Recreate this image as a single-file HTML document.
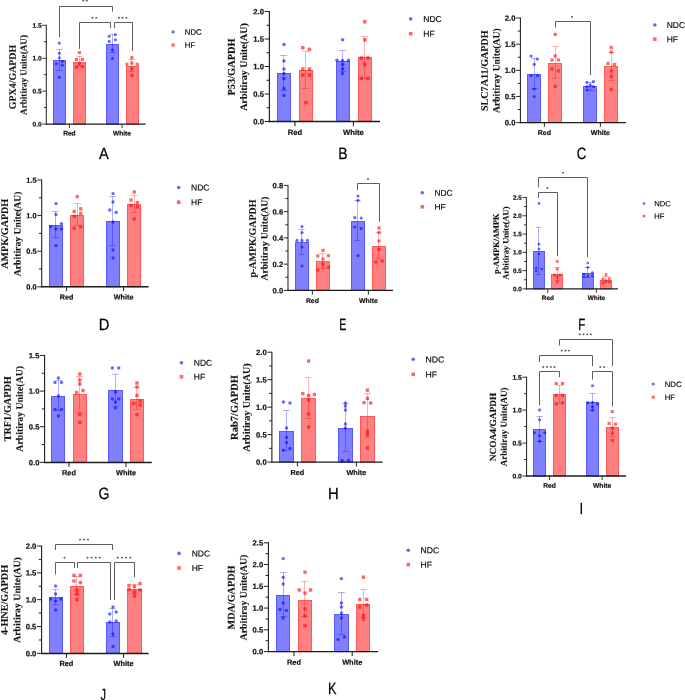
<!DOCTYPE html>
<html lang="en">
<head>
<meta charset="utf-8">
<title>Figure panels A-K</title>
<style>
html,body{margin:0;padding:0;background:#fff;}
body{width:685px;height:700px;overflow:hidden;}
svg{display:block;will-change:transform;opacity:0.999;}
text{text-rendering:geometricPrecision;}
</style>
</head>
<body>
<svg width="685" height="700" viewBox="0 0 685 700">
<g id="panel-A">
<rect x="54" y="61" width="11" height="63.1" fill="rgba(0,0,255,0.5)"/>
<rect x="53.5" y="60.5" width="12" height="63.6" fill="none" stroke="rgba(0,0,255,0.66)" stroke-width="1"/>
<rect x="74" y="63" width="11" height="61.1" fill="rgba(255,0,0,0.5)"/>
<rect x="73.5" y="62.5" width="12" height="61.6" fill="none" stroke="rgba(255,0,0,0.66)" stroke-width="1"/>
<rect x="107" y="45" width="11" height="79.1" fill="rgba(0,0,255,0.5)"/>
<rect x="106.5" y="44.5" width="12" height="79.6" fill="none" stroke="rgba(0,0,255,0.66)" stroke-width="1"/>
<rect x="127" y="67" width="11" height="57.1" fill="rgba(255,0,0,0.5)"/>
<rect x="126.5" y="66.5" width="12" height="57.6" fill="none" stroke="rgba(255,0,0,0.66)" stroke-width="1"/>
<path d="M59.5 49.5V70.5M56.47 49.5H62.53M56.47 70.5H62.53" stroke="rgba(0,0,255,0.42)" stroke-width="0.75" fill="none"/>
<path d="M79.5 56.5V66.5M76.47 56.5H82.53M76.47 66.5H82.53" stroke="rgba(255,0,0,0.42)" stroke-width="0.75" fill="none"/>
<path d="M112.5 34.5V52.5M109.47 34.5H115.53M109.47 52.5H115.53" stroke="rgba(0,0,255,0.42)" stroke-width="0.75" fill="none"/>
<path d="M131.5 59.5V71.5M128.47 59.5H134.53M128.47 71.5H134.53" stroke="rgba(255,0,0,0.42)" stroke-width="0.75" fill="none"/>
<circle cx="59.3" cy="43.1" r="1.56" fill="rgba(0,0,255,0.6)"/>
<circle cx="59.3" cy="53.3" r="1.56" fill="rgba(0,0,255,0.6)"/>
<circle cx="59.3" cy="57.8" r="1.56" fill="rgba(0,0,255,0.6)"/>
<circle cx="62.3" cy="61.4" r="1.56" fill="rgba(0,0,255,0.6)"/>
<circle cx="56.3" cy="63.8" r="1.56" fill="rgba(0,0,255,0.6)"/>
<circle cx="62.3" cy="65.3" r="1.56" fill="rgba(0,0,255,0.6)"/>
<circle cx="59.3" cy="77.3" r="1.56" fill="rgba(0,0,255,0.6)"/>
<rect x="77.84" y="51.04" width="3.13" height="3.13" fill="rgba(255,0,0,0.6)"/>
<rect x="74.84" y="57.84" width="3.13" height="3.13" fill="rgba(255,0,0,0.6)"/>
<rect x="80.84" y="57.84" width="3.13" height="3.13" fill="rgba(255,0,0,0.6)"/>
<rect x="77.84" y="62.44" width="3.13" height="3.13" fill="rgba(255,0,0,0.6)"/>
<rect x="74.84" y="65.44" width="3.13" height="3.13" fill="rgba(255,0,0,0.6)"/>
<rect x="80.84" y="65.04" width="3.13" height="3.13" fill="rgba(255,0,0,0.6)"/>
<circle cx="109.2" cy="36.3" r="1.56" fill="rgba(0,0,255,0.6)"/>
<circle cx="115.4" cy="34.8" r="1.56" fill="rgba(0,0,255,0.6)"/>
<circle cx="109.2" cy="41.4" r="1.56" fill="rgba(0,0,255,0.6)"/>
<circle cx="115.4" cy="39.8" r="1.56" fill="rgba(0,0,255,0.6)"/>
<circle cx="112.4" cy="50" r="1.56" fill="rgba(0,0,255,0.6)"/>
<circle cx="112.4" cy="58.6" r="1.56" fill="rgba(0,0,255,0.6)"/>
<rect x="130.34" y="56.14" width="3.13" height="3.13" fill="rgba(255,0,0,0.6)"/>
<rect x="130.34" y="61.54" width="3.13" height="3.13" fill="rgba(255,0,0,0.6)"/>
<rect x="125.34" y="62.74" width="3.13" height="3.13" fill="rgba(255,0,0,0.6)"/>
<rect x="135.64" y="62.74" width="3.13" height="3.13" fill="rgba(255,0,0,0.6)"/>
<rect x="130.34" y="67.34" width="3.13" height="3.13" fill="rgba(255,0,0,0.6)"/>
<rect x="130.34" y="73.94" width="3.13" height="3.13" fill="rgba(255,0,0,0.6)"/>
<path d="M46.3 24.85V124.65" stroke="#1c1c1c" stroke-width="0.98" fill="none"/>
<path d="M45.81 124.1H145.6" stroke="#1c1c1c" stroke-width="1.1" fill="none"/>
<path d="M46.3 124.1H42.29M46.3 107.63H43.8M46.3 91.17H42.29M46.3 74.7H43.8M46.3 58.23H42.29M46.3 41.77H43.8M46.3 25.3H42.29M69.4 124.1V128.11M122 124.1V128.11" stroke="#1c1c1c" stroke-width="0.89" fill="none"/>
<g font-family="Liberation Sans, Arial, sans-serif" font-weight="bold" font-size="6.63" fill="#111" stroke="#111" stroke-width="0.2">
<text transform="translate(41.66 126.49) rotate(0.03)" text-anchor="end">0.0</text>
<text transform="translate(41.66 93.55) rotate(0.03)" text-anchor="end">0.5</text>
<text transform="translate(41.66 60.62) rotate(0.03)" text-anchor="end">1.0</text>
<text transform="translate(41.66 27.69) rotate(0.03)" text-anchor="end">1.5</text>
<text transform="translate(69.4 135.38) rotate(0.03)" text-anchor="middle" font-size="6.6">Red</text>
<text transform="translate(122 135.38) rotate(0.03)" text-anchor="middle" font-size="6.6">White</text>
</g>
<path d="M59.5 37V6.5H112.5V11.6" stroke="#2a2a2a" stroke-width="0.75" fill="none"/>
<text transform="translate(85.82 3.23) rotate(0.03)" text-anchor="middle" font-family="Liberation Sans, Arial, sans-serif" font-size="5.2" letter-spacing="1.63" fill="#000" stroke="#000" stroke-width="0.12">**</text>
<path d="M79.5 49V22.5H110.5V28" stroke="#2a2a2a" stroke-width="0.75" fill="none"/>
<text transform="translate(95.22 20.43) rotate(0.03)" text-anchor="middle" font-family="Liberation Sans, Arial, sans-serif" font-size="5.2" letter-spacing="1.63" fill="#000" stroke="#000" stroke-width="0.12">**</text>
<path d="M114.5 28V22.5H132.5V51" stroke="#2a2a2a" stroke-width="0.75" fill="none"/>
<text transform="translate(123.42 20.43) rotate(0.03)" text-anchor="middle" font-family="Liberation Sans, Arial, sans-serif" font-size="5.2" letter-spacing="1.63" fill="#000" stroke="#000" stroke-width="0.12">***</text>
<circle cx="173.1" cy="31.9" r="1.6" fill="rgba(0,0,255,0.6)"/>
<rect x="171.5" y="43.4" width="3.2" height="3.2" fill="rgba(255,0,0,0.6)"/>
<g font-family="Liberation Sans, Arial, sans-serif" font-size="7.8" fill="#000" stroke="#000" stroke-width="0.15"><text transform="translate(184.8 34.71) rotate(0.03)">NDC</text><text transform="translate(184.8 47.81) rotate(0.03)">HF</text></g>
<text transform="translate(15.77 77) rotate(-90.03)" text-anchor="middle" font-family="Liberation Serif, Times New Roman, serif" font-weight="bold" font-size="9.92" fill="#111" stroke="#111" stroke-width="0.12">GPX4/GAPDH</text>
<text transform="translate(26.58 75) rotate(-90.03)" text-anchor="middle" font-family="Liberation Serif, Times New Roman, serif" font-weight="bold" font-size="9.14" fill="#111" stroke="#111" stroke-width="0.12">Arbitiray Unite(AU)</text>
<text transform="translate(99.03 158.75) rotate(0.03) scale(0.9138 1.0054)" font-family="Liberation Sans, Arial, sans-serif" font-size="16" fill="#000" stroke="#000" stroke-width="0.25">A</text>
</g>
<g id="panel-B">
<rect x="278" y="74" width="12" height="47.6" fill="rgba(0,0,255,0.5)"/>
<rect x="277.5" y="73.5" width="13" height="48.1" fill="none" stroke="rgba(0,0,255,0.66)" stroke-width="1"/>
<rect x="300" y="71" width="12" height="50.6" fill="rgba(255,0,0,0.5)"/>
<rect x="299.5" y="70.5" width="13" height="51.1" fill="none" stroke="rgba(255,0,0,0.66)" stroke-width="1"/>
<rect x="337" y="62" width="12" height="59.6" fill="rgba(0,0,255,0.5)"/>
<rect x="336.5" y="61.5" width="13" height="60.1" fill="none" stroke="rgba(0,0,255,0.66)" stroke-width="1"/>
<rect x="359" y="58" width="12" height="63.6" fill="rgba(255,0,0,0.5)"/>
<rect x="358.5" y="57.5" width="13" height="64.1" fill="none" stroke="rgba(255,0,0,0.66)" stroke-width="1"/>
<path d="M283.5 55.5V90.5M279.96 55.5H287.04M279.96 90.5H287.04" stroke="rgba(0,0,255,0.42)" stroke-width="0.75" fill="none"/>
<path d="M305.5 51.5V88.5M301.96 51.5H309.04M301.96 88.5H309.04" stroke="rgba(255,0,0,0.42)" stroke-width="0.75" fill="none"/>
<path d="M342.5 50.5V71.5M338.96 50.5H346.04M338.96 71.5H346.04" stroke="rgba(0,0,255,0.42)" stroke-width="0.75" fill="none"/>
<path d="M364.5 36.5V78.5M360.96 36.5H368.04M360.96 78.5H368.04" stroke="rgba(255,0,0,0.42)" stroke-width="0.75" fill="none"/>
<circle cx="284" cy="44.4" r="1.77" fill="rgba(0,0,255,0.6)"/>
<circle cx="284" cy="61" r="1.77" fill="rgba(0,0,255,0.6)"/>
<circle cx="284" cy="69" r="1.77" fill="rgba(0,0,255,0.6)"/>
<circle cx="284" cy="73.6" r="1.77" fill="rgba(0,0,255,0.6)"/>
<circle cx="284" cy="78.6" r="1.77" fill="rgba(0,0,255,0.6)"/>
<circle cx="284" cy="88.6" r="1.77" fill="rgba(0,0,255,0.6)"/>
<circle cx="284" cy="95.4" r="1.77" fill="rgba(0,0,255,0.6)"/>
<rect x="301.03" y="46.03" width="3.54" height="3.54" fill="rgba(255,0,0,0.6)"/>
<rect x="307.63" y="47.63" width="3.54" height="3.54" fill="rgba(255,0,0,0.6)"/>
<rect x="301.03" y="67.23" width="3.54" height="3.54" fill="rgba(255,0,0,0.6)"/>
<rect x="307.63" y="67.23" width="3.54" height="3.54" fill="rgba(255,0,0,0.6)"/>
<rect x="301.03" y="73.23" width="3.54" height="3.54" fill="rgba(255,0,0,0.6)"/>
<rect x="307.63" y="73.23" width="3.54" height="3.54" fill="rgba(255,0,0,0.6)"/>
<rect x="304.23" y="100.83" width="3.54" height="3.54" fill="rgba(255,0,0,0.6)"/>
<circle cx="342.6" cy="39.8" r="1.77" fill="rgba(0,0,255,0.6)"/>
<circle cx="337" cy="60.2" r="1.77" fill="rgba(0,0,255,0.6)"/>
<circle cx="342.6" cy="60.6" r="1.77" fill="rgba(0,0,255,0.6)"/>
<circle cx="348.4" cy="60.2" r="1.77" fill="rgba(0,0,255,0.6)"/>
<circle cx="342.6" cy="64.4" r="1.77" fill="rgba(0,0,255,0.6)"/>
<circle cx="342.6" cy="69" r="1.77" fill="rgba(0,0,255,0.6)"/>
<circle cx="342.6" cy="73.4" r="1.77" fill="rgba(0,0,255,0.6)"/>
<rect x="363.03" y="20.03" width="3.54" height="3.54" fill="rgba(255,0,0,0.6)"/>
<rect x="363.03" y="38.03" width="3.54" height="3.54" fill="rgba(255,0,0,0.6)"/>
<rect x="359.63" y="56.23" width="3.54" height="3.54" fill="rgba(255,0,0,0.6)"/>
<rect x="366.23" y="56.23" width="3.54" height="3.54" fill="rgba(255,0,0,0.6)"/>
<rect x="363.03" y="62.63" width="3.54" height="3.54" fill="rgba(255,0,0,0.6)"/>
<rect x="359.63" y="76.63" width="3.54" height="3.54" fill="rgba(255,0,0,0.6)"/>
<rect x="366.23" y="76.63" width="3.54" height="3.54" fill="rgba(255,0,0,0.6)"/>
<path d="M269.4 10.88V122.35" stroke="#1c1c1c" stroke-width="1.14" fill="none"/>
<path d="M268.83 121.6H380" stroke="#1c1c1c" stroke-width="1.51" fill="none"/>
<path d="M269.4 121.6H264.72M269.4 107.82H266.49M269.4 94.05H264.72M269.4 80.28H266.49M269.4 66.5H264.72M269.4 52.73H266.49M269.4 38.95H264.72M269.4 25.18H266.49M269.4 11.4H264.72M295 121.6V126.28M353.4 121.6V126.28" stroke="#1c1c1c" stroke-width="1.04" fill="none"/>
<g font-family="Liberation Sans, Arial, sans-serif" font-weight="bold" font-size="7.7" fill="#111" stroke="#111" stroke-width="0.2">
<text transform="translate(263.99 124.37) rotate(0.03)" text-anchor="end">0.0</text>
<text transform="translate(263.99 96.82) rotate(0.03)" text-anchor="end">0.5</text>
<text transform="translate(263.99 69.27) rotate(0.03)" text-anchor="end">1.0</text>
<text transform="translate(263.99 41.72) rotate(0.03)" text-anchor="end">1.5</text>
<text transform="translate(263.99 14.17) rotate(0.03)" text-anchor="end">2.0</text>
<text transform="translate(295 134.97) rotate(0.03)" text-anchor="middle" font-size="7.7">Red</text>
<text transform="translate(353.4 134.97) rotate(0.03)" text-anchor="middle" font-size="7.7">White</text>
</g>
<circle cx="410.7" cy="18.9" r="1.8" fill="rgba(0,0,255,0.6)"/>
<rect x="408.9" y="31.9" width="3.6" height="3.6" fill="rgba(255,0,0,0.6)"/>
<g font-family="Liberation Sans, Arial, sans-serif" font-size="8.5" fill="#000" stroke="#000" stroke-width="0.15"><text transform="translate(423.3 21.96) rotate(0.03)">NDC</text><text transform="translate(423.3 36.76) rotate(0.03)">HF</text></g>
<text transform="translate(234.82 67) rotate(-90.03)" text-anchor="middle" font-family="Liberation Serif, Times New Roman, serif" font-weight="bold" font-size="10.4" fill="#111" stroke="#111" stroke-width="0.12">P53/GAPDH</text>
<text transform="translate(246.9 67) rotate(-90.03)" text-anchor="middle" font-family="Liberation Serif, Times New Roman, serif" font-weight="bold" font-size="10" fill="#111" stroke="#111" stroke-width="0.12">Arbitiray Unite(AU)</text>
<text transform="translate(338.19 158.95) rotate(0.03) scale(0.8703 1.0326)" font-family="Liberation Sans, Arial, sans-serif" font-size="16" fill="#000" stroke="#000" stroke-width="0.25">B</text>
</g>
<g id="panel-C">
<rect x="528" y="75" width="12" height="47.6" fill="rgba(0,0,255,0.5)"/>
<rect x="527.5" y="74.5" width="13" height="48.1" fill="none" stroke="rgba(0,0,255,0.66)" stroke-width="1"/>
<rect x="549" y="64" width="12" height="58.6" fill="rgba(255,0,0,0.5)"/>
<rect x="548.5" y="63.5" width="13" height="59.1" fill="none" stroke="rgba(255,0,0,0.66)" stroke-width="1"/>
<rect x="584" y="87" width="12" height="35.6" fill="rgba(0,0,255,0.5)"/>
<rect x="583.5" y="86.5" width="13" height="36.1" fill="none" stroke="rgba(0,0,255,0.66)" stroke-width="1"/>
<rect x="605" y="67" width="12" height="55.6" fill="rgba(255,0,0,0.5)"/>
<rect x="604.5" y="66.5" width="13" height="56.1" fill="none" stroke="rgba(255,0,0,0.66)" stroke-width="1"/>
<path d="M534.5 58.5V88.5M531.28 58.5H537.72M531.28 88.5H537.72" stroke="rgba(0,0,255,0.42)" stroke-width="0.75" fill="none"/>
<path d="M555.5 46.5V78.5M552.28 46.5H558.72M552.28 78.5H558.72" stroke="rgba(255,0,0,0.42)" stroke-width="0.75" fill="none"/>
<path d="M590.5 82.5V90.5M587.28 82.5H593.72M587.28 90.5H593.72" stroke="rgba(0,0,255,0.42)" stroke-width="0.75" fill="none"/>
<path d="M611.5 52.5V80.5M608.28 52.5H614.72M608.28 80.5H614.72" stroke="rgba(255,0,0,0.42)" stroke-width="0.75" fill="none"/>
<circle cx="531" cy="56" r="1.61" fill="rgba(0,0,255,0.6)"/>
<circle cx="537.4" cy="59" r="1.61" fill="rgba(0,0,255,0.6)"/>
<circle cx="534.2" cy="64.4" r="1.61" fill="rgba(0,0,255,0.6)"/>
<circle cx="531" cy="75.6" r="1.61" fill="rgba(0,0,255,0.6)"/>
<circle cx="537.4" cy="75.6" r="1.61" fill="rgba(0,0,255,0.6)"/>
<circle cx="534.2" cy="89" r="1.61" fill="rgba(0,0,255,0.6)"/>
<circle cx="534.2" cy="96.6" r="1.61" fill="rgba(0,0,255,0.6)"/>
<rect x="553.59" y="32.79" width="3.22" height="3.22" fill="rgba(255,0,0,0.6)"/>
<rect x="553.59" y="54.39" width="3.22" height="3.22" fill="rgba(255,0,0,0.6)"/>
<rect x="550.39" y="58.39" width="3.22" height="3.22" fill="rgba(255,0,0,0.6)"/>
<rect x="556.79" y="58.39" width="3.22" height="3.22" fill="rgba(255,0,0,0.6)"/>
<rect x="550.39" y="67.39" width="3.22" height="3.22" fill="rgba(255,0,0,0.6)"/>
<rect x="556.79" y="69.39" width="3.22" height="3.22" fill="rgba(255,0,0,0.6)"/>
<rect x="553.59" y="84.79" width="3.22" height="3.22" fill="rgba(255,0,0,0.6)"/>
<circle cx="587" cy="82.4" r="1.61" fill="rgba(0,0,255,0.6)"/>
<circle cx="593.4" cy="81.6" r="1.61" fill="rgba(0,0,255,0.6)"/>
<circle cx="590.2" cy="85" r="1.61" fill="rgba(0,0,255,0.6)"/>
<circle cx="587" cy="86.6" r="1.61" fill="rgba(0,0,255,0.6)"/>
<circle cx="593.4" cy="86.6" r="1.61" fill="rgba(0,0,255,0.6)"/>
<circle cx="587" cy="90" r="1.61" fill="rgba(0,0,255,0.6)"/>
<rect x="609.59" y="45.79" width="3.22" height="3.22" fill="rgba(255,0,0,0.6)"/>
<rect x="609.59" y="50.39" width="3.22" height="3.22" fill="rgba(255,0,0,0.6)"/>
<rect x="606.39" y="61.79" width="3.22" height="3.22" fill="rgba(255,0,0,0.6)"/>
<rect x="612.79" y="62.89" width="3.22" height="3.22" fill="rgba(255,0,0,0.6)"/>
<rect x="609.59" y="69.39" width="3.22" height="3.22" fill="rgba(255,0,0,0.6)"/>
<rect x="609.59" y="74.79" width="3.22" height="3.22" fill="rgba(255,0,0,0.6)"/>
<rect x="609.59" y="87.79" width="3.22" height="3.22" fill="rgba(255,0,0,0.6)"/>
<path d="M520.4 17.53V123.29" stroke="#1c1c1c" stroke-width="1.04" fill="none"/>
<path d="M519.88 122.6H626" stroke="#1c1c1c" stroke-width="1.37" fill="none"/>
<path d="M520.4 122.6H516.14M520.4 109.52H517.75M520.4 96.45H516.14M520.4 83.37H517.75M520.4 70.3H516.14M520.4 57.22H517.75M520.4 44.15H516.14M520.4 31.08H517.75M520.4 18H516.14M544.4 122.6V126.86M600.4 122.6V126.86" stroke="#1c1c1c" stroke-width="0.95" fill="none"/>
<g font-family="Liberation Sans, Arial, sans-serif" font-weight="bold" font-size="7.7" fill="#111" stroke="#111" stroke-width="0.2">
<text transform="translate(515.48 125.37) rotate(0.03)" text-anchor="end">0.0</text>
<text transform="translate(515.48 99.22) rotate(0.03)" text-anchor="end">0.5</text>
<text transform="translate(515.48 73.07) rotate(0.03)" text-anchor="end">1.0</text>
<text transform="translate(515.48 46.92) rotate(0.03)" text-anchor="end">1.5</text>
<text transform="translate(515.48 20.77) rotate(0.03)" text-anchor="end">2.0</text>
<text transform="translate(544.4 135.12) rotate(0.03)" text-anchor="middle" font-size="7">Red</text>
<text transform="translate(600.4 135.12) rotate(0.03)" text-anchor="middle" font-size="7">White</text>
</g>
<path d="M555.5 27.6V21.5H590.5V75" stroke="#2a2a2a" stroke-width="0.75" fill="none"/>
<text transform="translate(572.93 19.43) rotate(0.03)" text-anchor="middle" font-family="Liberation Sans, Arial, sans-serif" font-size="5.2" letter-spacing="1.86" fill="#000" stroke="#000" stroke-width="0.12">*</text>
<circle cx="654.8" cy="25" r="1.8" fill="rgba(0,0,255,0.6)"/>
<rect x="653" y="37.3" width="3.6" height="3.6" fill="rgba(255,0,0,0.6)"/>
<g font-family="Liberation Sans, Arial, sans-serif" font-size="8.5" fill="#000" stroke="#000" stroke-width="0.15"><text transform="translate(666.7 28.06) rotate(0.03)">NDC</text><text transform="translate(666.7 42.16) rotate(0.03)">HF</text></g>
<text transform="translate(487.73 70.7) rotate(-90.03)" text-anchor="middle" font-family="Liberation Serif, Times New Roman, serif" font-weight="bold" font-size="10.09" fill="#111" stroke="#111" stroke-width="0.12">SLC7A11/GAPDH</text>
<text transform="translate(499.51 70.7) rotate(-90.03)" text-anchor="middle" font-family="Liberation Serif, Times New Roman, serif" font-weight="bold" font-size="9.7" fill="#111" stroke="#111" stroke-width="0.12">Arbitiray Unite(AU)</text>
<text transform="translate(576.84 158.99) rotate(0.03) scale(0.8234 1.0299)" font-family="Liberation Sans, Arial, sans-serif" font-size="16" fill="#000" stroke="#000" stroke-width="0.25">C</text>
</g>
<g id="panel-D">
<rect x="50" y="226" width="12" height="60.8" fill="rgba(0,0,255,0.5)"/>
<rect x="49.5" y="225.5" width="13" height="61.3" fill="none" stroke="rgba(0,0,255,0.66)" stroke-width="1"/>
<rect x="71" y="216" width="12" height="70.8" fill="rgba(255,0,0,0.5)"/>
<rect x="70.5" y="215.5" width="13" height="71.3" fill="none" stroke="rgba(255,0,0,0.66)" stroke-width="1"/>
<rect x="107" y="222" width="12" height="64.8" fill="rgba(0,0,255,0.5)"/>
<rect x="106.5" y="221.5" width="13" height="65.3" fill="none" stroke="rgba(0,0,255,0.66)" stroke-width="1"/>
<rect x="128" y="205" width="12" height="81.8" fill="rgba(255,0,0,0.5)"/>
<rect x="127.5" y="204.5" width="13" height="82.3" fill="none" stroke="rgba(255,0,0,0.66)" stroke-width="1"/>
<path d="M55.5 211.5V237.5M52.19 211.5H58.81M52.19 237.5H58.81" stroke="rgba(0,0,255,0.42)" stroke-width="0.75" fill="none"/>
<path d="M77.5 203.5V225.5M74.19 203.5H80.81M74.19 225.5H80.81" stroke="rgba(255,0,0,0.42)" stroke-width="0.75" fill="none"/>
<path d="M112.5 196.5V245.5M109.19 196.5H115.81M109.19 245.5H115.81" stroke="rgba(0,0,255,0.42)" stroke-width="0.75" fill="none"/>
<path d="M134.5 195.5V212.5M131.19 195.5H137.81M131.19 212.5H137.81" stroke="rgba(255,0,0,0.42)" stroke-width="0.75" fill="none"/>
<circle cx="56" cy="203.6" r="1.65" fill="rgba(0,0,255,0.6)"/>
<circle cx="56" cy="214.4" r="1.65" fill="rgba(0,0,255,0.6)"/>
<circle cx="61.4" cy="223.6" r="1.65" fill="rgba(0,0,255,0.6)"/>
<circle cx="50.6" cy="226.6" r="1.65" fill="rgba(0,0,255,0.6)"/>
<circle cx="56" cy="229" r="1.65" fill="rgba(0,0,255,0.6)"/>
<circle cx="61.4" cy="229" r="1.65" fill="rgba(0,0,255,0.6)"/>
<circle cx="56" cy="245.6" r="1.65" fill="rgba(0,0,255,0.6)"/>
<rect x="75.55" y="194.95" width="3.31" height="3.31" fill="rgba(255,0,0,0.6)"/>
<rect x="72.55" y="209.85" width="3.31" height="3.31" fill="rgba(255,0,0,0.6)"/>
<rect x="79.05" y="207.15" width="3.31" height="3.31" fill="rgba(255,0,0,0.6)"/>
<rect x="79.05" y="211.65" width="3.31" height="3.31" fill="rgba(255,0,0,0.6)"/>
<rect x="72.65" y="214.65" width="3.31" height="3.31" fill="rgba(255,0,0,0.6)"/>
<rect x="72.55" y="226.55" width="3.31" height="3.31" fill="rgba(255,0,0,0.6)"/>
<rect x="78.95" y="225.15" width="3.31" height="3.31" fill="rgba(255,0,0,0.6)"/>
<circle cx="113" cy="193.6" r="1.65" fill="rgba(0,0,255,0.6)"/>
<circle cx="113" cy="202" r="1.65" fill="rgba(0,0,255,0.6)"/>
<circle cx="109.8" cy="210" r="1.65" fill="rgba(0,0,255,0.6)"/>
<circle cx="116.2" cy="212.4" r="1.65" fill="rgba(0,0,255,0.6)"/>
<circle cx="113" cy="222" r="1.65" fill="rgba(0,0,255,0.6)"/>
<circle cx="113" cy="250" r="1.65" fill="rgba(0,0,255,0.6)"/>
<circle cx="113" cy="258" r="1.65" fill="rgba(0,0,255,0.6)"/>
<rect x="132.55" y="190.35" width="3.31" height="3.31" fill="rgba(255,0,0,0.6)"/>
<rect x="129.35" y="198.35" width="3.31" height="3.31" fill="rgba(255,0,0,0.6)"/>
<rect x="135.75" y="200.95" width="3.31" height="3.31" fill="rgba(255,0,0,0.6)"/>
<rect x="129.35" y="203.95" width="3.31" height="3.31" fill="rgba(255,0,0,0.6)"/>
<rect x="135.75" y="205.35" width="3.31" height="3.31" fill="rgba(255,0,0,0.6)"/>
<rect x="132.55" y="217.35" width="3.31" height="3.31" fill="rgba(255,0,0,0.6)"/>
<path d="M41.7 179.51V287.51" stroke="#1c1c1c" stroke-width="1.07" fill="none"/>
<path d="M41.16 286.8H148.6" stroke="#1c1c1c" stroke-width="1.41" fill="none"/>
<path d="M41.7 286.8H37.32M41.7 269H38.98M41.7 251.2H37.32M41.7 233.4H38.98M41.7 215.6H37.32M41.7 197.8H38.98M41.7 180H37.32M66.6 286.8V291.18M123.6 286.8V291.18" stroke="#1c1c1c" stroke-width="0.97" fill="none"/>
<g font-family="Liberation Sans, Arial, sans-serif" font-weight="bold" font-size="7.41" fill="#111" stroke="#111" stroke-width="0.2">
<text transform="translate(36.64 289.47) rotate(0.03)" text-anchor="end">0.0</text>
<text transform="translate(36.64 253.87) rotate(0.03)" text-anchor="end">0.5</text>
<text transform="translate(36.64 218.27) rotate(0.03)" text-anchor="end">1.0</text>
<text transform="translate(36.64 182.67) rotate(0.03)" text-anchor="end">1.5</text>
<text transform="translate(66.6 299.59) rotate(0.03)" text-anchor="middle" font-size="7.2">Red</text>
<text transform="translate(123.6 299.59) rotate(0.03)" text-anchor="middle" font-size="7.2">White</text>
</g>
<circle cx="178.7" cy="187.5" r="1.8" fill="rgba(0,0,255,0.6)"/>
<rect x="176.9" y="200.4" width="3.6" height="3.6" fill="rgba(255,0,0,0.6)"/>
<g font-family="Liberation Sans, Arial, sans-serif" font-size="8.5" fill="#000" stroke="#000" stroke-width="0.15"><text transform="translate(191 190.56) rotate(0.03)">NDC</text><text transform="translate(191 205.26) rotate(0.03)">HF</text></g>
<text transform="translate(8.03 233.8) rotate(-90.03)" text-anchor="middle" font-family="Liberation Serif, Times New Roman, serif" font-weight="bold" font-size="10.09" fill="#111" stroke="#111" stroke-width="0.12">AMPK/GAPDH</text>
<text transform="translate(20.51 233.8) rotate(-90.03)" text-anchor="middle" font-family="Liberation Serif, Times New Roman, serif" font-weight="bold" font-size="9.7" fill="#111" stroke="#111" stroke-width="0.12">Arbitiray Unite(AU)</text>
<text transform="translate(98.82 329.85) rotate(0.03) scale(0.9191 1.0145)" font-family="Liberation Sans, Arial, sans-serif" font-size="16" fill="#000" stroke="#000" stroke-width="0.25">D</text>
</g>
<g id="panel-E">
<rect x="296" y="243" width="12" height="47.4" fill="rgba(0,0,255,0.5)"/>
<rect x="295.5" y="242.5" width="13" height="47.9" fill="none" stroke="rgba(0,0,255,0.66)" stroke-width="1"/>
<rect x="317" y="262" width="12" height="28.4" fill="rgba(255,0,0,0.5)"/>
<rect x="316.5" y="261.5" width="13" height="28.9" fill="none" stroke="rgba(255,0,0,0.66)" stroke-width="1"/>
<rect x="352" y="222" width="12" height="68.4" fill="rgba(0,0,255,0.5)"/>
<rect x="351.5" y="221.5" width="13" height="68.9" fill="none" stroke="rgba(0,0,255,0.66)" stroke-width="1"/>
<rect x="373" y="247" width="12" height="43.4" fill="rgba(255,0,0,0.5)"/>
<rect x="372.5" y="246.5" width="13" height="43.9" fill="none" stroke="rgba(255,0,0,0.66)" stroke-width="1"/>
<path d="M301.5 229.5V254.5M298.33 229.5H304.67M298.33 254.5H304.67" stroke="rgba(0,0,255,0.42)" stroke-width="0.75" fill="none"/>
<path d="M322.5 253.5V268.5M319.33 253.5H325.67M319.33 268.5H325.67" stroke="rgba(255,0,0,0.42)" stroke-width="0.75" fill="none"/>
<path d="M357.5 200.5V240.5M354.33 200.5H360.67M354.33 240.5H360.67" stroke="rgba(0,0,255,0.42)" stroke-width="0.75" fill="none"/>
<path d="M378.5 232.5V258.5M375.33 232.5H381.67M375.33 258.5H381.67" stroke="rgba(255,0,0,0.42)" stroke-width="0.75" fill="none"/>
<circle cx="302" cy="226.6" r="1.59" fill="rgba(0,0,255,0.6)"/>
<circle cx="302" cy="232.6" r="1.59" fill="rgba(0,0,255,0.6)"/>
<circle cx="297" cy="240.4" r="1.59" fill="rgba(0,0,255,0.6)"/>
<circle cx="302" cy="240.4" r="1.59" fill="rgba(0,0,255,0.6)"/>
<circle cx="307.4" cy="240.4" r="1.59" fill="rgba(0,0,255,0.6)"/>
<circle cx="302" cy="247" r="1.59" fill="rgba(0,0,255,0.6)"/>
<circle cx="302" cy="266" r="1.59" fill="rgba(0,0,255,0.6)"/>
<rect x="321.41" y="248.81" width="3.17" height="3.17" fill="rgba(255,0,0,0.6)"/>
<rect x="316.21" y="254.41" width="3.17" height="3.17" fill="rgba(255,0,0,0.6)"/>
<rect x="326.81" y="254.01" width="3.17" height="3.17" fill="rgba(255,0,0,0.6)"/>
<rect x="321.41" y="257.41" width="3.17" height="3.17" fill="rgba(255,0,0,0.6)"/>
<rect x="321.41" y="262.41" width="3.17" height="3.17" fill="rgba(255,0,0,0.6)"/>
<rect x="316.21" y="268.41" width="3.17" height="3.17" fill="rgba(255,0,0,0.6)"/>
<rect x="326.81" y="265.81" width="3.17" height="3.17" fill="rgba(255,0,0,0.6)"/>
<circle cx="358" cy="196" r="1.59" fill="rgba(0,0,255,0.6)"/>
<circle cx="358" cy="200.4" r="1.59" fill="rgba(0,0,255,0.6)"/>
<circle cx="354.8" cy="217.6" r="1.59" fill="rgba(0,0,255,0.6)"/>
<circle cx="361.2" cy="218" r="1.59" fill="rgba(0,0,255,0.6)"/>
<circle cx="354.8" cy="227" r="1.59" fill="rgba(0,0,255,0.6)"/>
<circle cx="361.2" cy="228.4" r="1.59" fill="rgba(0,0,255,0.6)"/>
<circle cx="358" cy="255.6" r="1.59" fill="rgba(0,0,255,0.6)"/>
<rect x="377.41" y="226.41" width="3.17" height="3.17" fill="rgba(255,0,0,0.6)"/>
<rect x="377.41" y="231.01" width="3.17" height="3.17" fill="rgba(255,0,0,0.6)"/>
<rect x="377.41" y="239.41" width="3.17" height="3.17" fill="rgba(255,0,0,0.6)"/>
<rect x="377.41" y="247.81" width="3.17" height="3.17" fill="rgba(255,0,0,0.6)"/>
<rect x="374.21" y="260.41" width="3.17" height="3.17" fill="rgba(255,0,0,0.6)"/>
<rect x="380.61" y="259.41" width="3.17" height="3.17" fill="rgba(255,0,0,0.6)"/>
<path d="M288 184.93V291.08" stroke="#1c1c1c" stroke-width="1.03" fill="none"/>
<path d="M287.49 290.4H393" stroke="#1c1c1c" stroke-width="1.35" fill="none"/>
<path d="M288 290.4H283.8M288 277.27H285.39M288 264.15H283.8M288 251.02H285.39M288 237.9H283.8M288 224.77H285.39M288 211.65H283.8M288 198.53H285.39M288 185.4H283.8M312.4 290.4V294.6M368.4 290.4V294.6" stroke="#1c1c1c" stroke-width="0.93" fill="none"/>
<g font-family="Liberation Sans, Arial, sans-serif" font-weight="bold" font-size="7.6" fill="#111" stroke="#111" stroke-width="0.2">
<text transform="translate(283.15 293.14) rotate(0.03)" text-anchor="end">0.0</text>
<text transform="translate(283.15 266.89) rotate(0.03)" text-anchor="end">0.2</text>
<text transform="translate(283.15 240.64) rotate(0.03)" text-anchor="end">0.4</text>
<text transform="translate(283.15 214.39) rotate(0.03)" text-anchor="end">0.6</text>
<text transform="translate(283.15 188.14) rotate(0.03)" text-anchor="end">0.8</text>
<text transform="translate(312.4 302.88) rotate(0.03)" text-anchor="middle" font-size="6.9">Red</text>
<text transform="translate(368.4 302.88) rotate(0.03)" text-anchor="middle" font-size="6.9">White</text>
</g>
<path d="M357.5 190V183.5H379.5V222" stroke="#2a2a2a" stroke-width="0.75" fill="none"/>
<text transform="translate(368.9 181.83) rotate(0.03)" text-anchor="middle" font-family="Liberation Sans, Arial, sans-serif" font-size="5.2" letter-spacing="1.8" fill="#000" stroke="#000" stroke-width="0.12">*</text>
<circle cx="422.3" cy="192.8" r="1.8" fill="rgba(0,0,255,0.6)"/>
<rect x="420.5" y="205" width="3.6" height="3.6" fill="rgba(255,0,0,0.6)"/>
<g font-family="Liberation Sans, Arial, sans-serif" font-size="8.4" fill="#000" stroke="#000" stroke-width="0.15"><text transform="translate(434.5 195.82) rotate(0.03)">NDC</text><text transform="translate(434.5 209.82) rotate(0.03)">HF</text></g>
<text transform="translate(255.8 238.5) rotate(-90.03)" text-anchor="middle" font-family="Liberation Serif, Times New Roman, serif" font-weight="bold" font-size="9.98" fill="#111" stroke="#111" stroke-width="0.12">p-AMPK/GAPDH</text>
<text transform="translate(267.58 238.5) rotate(-90.03)" text-anchor="middle" font-family="Liberation Serif, Times New Roman, serif" font-weight="bold" font-size="9.6" fill="#111" stroke="#111" stroke-width="0.12">Arbitiray Unite(AU)</text>
<text transform="translate(339.15 329.85) rotate(0.03) scale(0.6651 1.0145)" font-family="Liberation Sans, Arial, sans-serif" font-size="16" fill="#000" stroke="#000" stroke-width="0.25">E</text>
</g>
<g id="panel-F">
<rect x="534" y="252" width="10" height="36.9" fill="rgba(0,0,255,0.5)"/>
<rect x="533.5" y="251.5" width="11" height="37.4" fill="none" stroke="rgba(0,0,255,0.66)" stroke-width="1"/>
<rect x="552" y="275" width="10" height="13.9" fill="rgba(255,0,0,0.5)"/>
<rect x="551.5" y="274.5" width="11" height="14.4" fill="none" stroke="rgba(255,0,0,0.66)" stroke-width="1"/>
<rect x="583" y="274" width="10" height="14.9" fill="rgba(0,0,255,0.5)"/>
<rect x="582.5" y="273.5" width="11" height="15.4" fill="none" stroke="rgba(0,0,255,0.66)" stroke-width="1"/>
<rect x="601" y="281" width="10" height="7.9" fill="rgba(255,0,0,0.5)"/>
<rect x="600.5" y="280.5" width="11" height="8.4" fill="none" stroke="rgba(255,0,0,0.66)" stroke-width="1"/>
<path d="M538.5 227.5V274.5M535.56 227.5H541.44M535.56 274.5H541.44" stroke="rgba(0,0,255,0.42)" stroke-width="0.75" fill="none"/>
<path d="M557.5 267.5V280.5M554.56 267.5H560.44M554.56 280.5H560.44" stroke="rgba(255,0,0,0.42)" stroke-width="0.75" fill="none"/>
<path d="M587.5 267.5V277.5M584.56 267.5H590.44M584.56 277.5H590.44" stroke="rgba(0,0,255,0.42)" stroke-width="0.75" fill="none"/>
<path d="M605.5 276.5V282.5M602.56 276.5H608.44M602.56 282.5H608.44" stroke="rgba(255,0,0,0.42)" stroke-width="0.75" fill="none"/>
<circle cx="539" cy="203.4" r="1.35" fill="rgba(0,0,255,0.6)"/>
<circle cx="539" cy="244.2" r="1.35" fill="rgba(0,0,255,0.6)"/>
<circle cx="539" cy="249" r="1.35" fill="rgba(0,0,255,0.6)"/>
<circle cx="539" cy="254" r="1.35" fill="rgba(0,0,255,0.6)"/>
<circle cx="536.2" cy="268" r="1.35" fill="rgba(0,0,255,0.6)"/>
<circle cx="541.8" cy="269" r="1.35" fill="rgba(0,0,255,0.6)"/>
<circle cx="536.2" cy="271" r="1.35" fill="rgba(0,0,255,0.6)"/>
<rect x="555.85" y="260.05" width="2.7" height="2.7" fill="rgba(255,0,0,0.6)"/>
<rect x="555.85" y="267.65" width="2.7" height="2.7" fill="rgba(255,0,0,0.6)"/>
<rect x="553.05" y="273.65" width="2.7" height="2.7" fill="rgba(255,0,0,0.6)"/>
<rect x="558.65" y="273.65" width="2.7" height="2.7" fill="rgba(255,0,0,0.6)"/>
<rect x="555.85" y="275.65" width="2.7" height="2.7" fill="rgba(255,0,0,0.6)"/>
<rect x="555.85" y="280.65" width="2.7" height="2.7" fill="rgba(255,0,0,0.6)"/>
<circle cx="587.8" cy="263" r="1.35" fill="rgba(0,0,255,0.6)"/>
<circle cx="587.8" cy="267.4" r="1.35" fill="rgba(0,0,255,0.6)"/>
<circle cx="592.4" cy="272.6" r="1.35" fill="rgba(0,0,255,0.6)"/>
<circle cx="584" cy="274" r="1.35" fill="rgba(0,0,255,0.6)"/>
<circle cx="587.8" cy="276" r="1.35" fill="rgba(0,0,255,0.6)"/>
<circle cx="592.4" cy="276" r="1.35" fill="rgba(0,0,255,0.6)"/>
<circle cx="584" cy="277" r="1.35" fill="rgba(0,0,255,0.6)"/>
<rect x="604.65" y="273.25" width="2.7" height="2.7" fill="rgba(255,0,0,0.6)"/>
<rect x="601.65" y="277.65" width="2.7" height="2.7" fill="rgba(255,0,0,0.6)"/>
<rect x="608.05" y="277.25" width="2.7" height="2.7" fill="rgba(255,0,0,0.6)"/>
<rect x="604.65" y="279.65" width="2.7" height="2.7" fill="rgba(255,0,0,0.6)"/>
<rect x="601.65" y="281.65" width="2.7" height="2.7" fill="rgba(255,0,0,0.6)"/>
<rect x="608.05" y="280.65" width="2.7" height="2.7" fill="rgba(255,0,0,0.6)"/>
<path d="M526.4 197.07V289.53" stroke="#1c1c1c" stroke-width="0.95" fill="none"/>
<path d="M525.92 288.9H618" stroke="#1c1c1c" stroke-width="1.25" fill="none"/>
<path d="M526.4 288.9H522.51M526.4 279.76H523.98M526.4 270.62H522.51M526.4 261.48H523.98M526.4 252.34H522.51M526.4 243.2H523.98M526.4 234.06H522.51M526.4 224.92H523.98M526.4 215.78H522.51M526.4 206.64H523.98M526.4 197.5H522.51M547.8 288.9V292.79M596.4 288.9V292.79" stroke="#1c1c1c" stroke-width="0.86" fill="none"/>
<g font-family="Liberation Sans, Arial, sans-serif" font-weight="bold" font-size="6.34" fill="#111" stroke="#111" stroke-width="0.2">
<text transform="translate(521.9 291.18) rotate(0.03)" text-anchor="end">0.0</text>
<text transform="translate(521.9 272.9) rotate(0.03)" text-anchor="end">0.5</text>
<text transform="translate(521.9 254.62) rotate(0.03)" text-anchor="end">1.0</text>
<text transform="translate(521.9 236.34) rotate(0.03)" text-anchor="end">1.5</text>
<text transform="translate(521.9 218.06) rotate(0.03)" text-anchor="end">2.0</text>
<text transform="translate(521.9 199.78) rotate(0.03)" text-anchor="end">2.5</text>
<text transform="translate(547.8 299.9) rotate(0.03)" text-anchor="middle" font-size="6.4">Red</text>
<text transform="translate(596.4 299.9) rotate(0.03)" text-anchor="middle" font-size="6.4">White</text>
</g>
<path d="M538.5 187.4V177.5H587.5V257.4" stroke="#2a2a2a" stroke-width="0.75" fill="none"/>
<text transform="translate(563.76 175.23) rotate(0.03)" text-anchor="middle" font-family="Liberation Sans, Arial, sans-serif" font-size="5.2" letter-spacing="1.52" fill="#000" stroke="#000" stroke-width="0.12">*</text>
<path d="M538.5 198V192.5H557.5V256" stroke="#2a2a2a" stroke-width="0.75" fill="none"/>
<text transform="translate(548.36 190.83) rotate(0.03)" text-anchor="middle" font-family="Liberation Sans, Arial, sans-serif" font-size="5.2" letter-spacing="1.52" fill="#000" stroke="#000" stroke-width="0.12">*</text>
<circle cx="644" cy="203.6" r="1.35" fill="rgba(0,0,255,0.6)"/>
<rect x="642.65" y="214.75" width="2.7" height="2.7" fill="rgba(255,0,0,0.6)"/>
<g font-family="Liberation Sans, Arial, sans-serif" font-size="7.6" fill="#000" stroke="#000" stroke-width="0.15"><text transform="translate(654.2 206.34) rotate(0.03)">NDC</text><text transform="translate(654.2 218.84) rotate(0.03)">HF</text></g>
<text transform="translate(498.88 243.8) rotate(-90.03)" text-anchor="middle" font-family="Liberation Serif, Times New Roman, serif" font-weight="bold" font-size="8.32" fill="#111" stroke="#111" stroke-width="0.12">p-AMPK/AMPK</text>
<text transform="translate(508.6 243.2) rotate(-90.03)" text-anchor="middle" font-family="Liberation Serif, Times New Roman, serif" font-weight="bold" font-size="8.4" fill="#111" stroke="#111" stroke-width="0.12">Arbitiray Unite(AU)</text>
<text transform="translate(578.18 329.85) rotate(0.03) scale(0.7207 1.0145)" font-family="Liberation Sans, Arial, sans-serif" font-size="16" fill="#000" stroke="#000" stroke-width="0.25">F</text>
</g>
<g id="panel-G">
<rect x="52" y="397" width="12" height="65.4" fill="rgba(0,0,255,0.5)"/>
<rect x="51.5" y="396.5" width="13" height="65.9" fill="none" stroke="rgba(0,0,255,0.66)" stroke-width="1"/>
<rect x="74" y="395" width="12" height="67.4" fill="rgba(255,0,0,0.5)"/>
<rect x="73.5" y="394.5" width="13" height="67.9" fill="none" stroke="rgba(255,0,0,0.66)" stroke-width="1"/>
<rect x="109" y="391" width="13" height="71.4" fill="rgba(0,0,255,0.5)"/>
<rect x="108.5" y="390.5" width="14" height="71.9" fill="none" stroke="rgba(0,0,255,0.66)" stroke-width="1"/>
<rect x="131" y="400" width="12" height="62.4" fill="rgba(255,0,0,0.5)"/>
<rect x="130.5" y="399.5" width="13" height="62.9" fill="none" stroke="rgba(255,0,0,0.66)" stroke-width="1"/>
<path d="M58.5 380.5V410.5M55.1 380.5H61.9M55.1 410.5H61.9" stroke="rgba(0,0,255,0.42)" stroke-width="0.75" fill="none"/>
<path d="M79.5 376.5V412.5M76.1 376.5H82.9M76.1 412.5H82.9" stroke="rgba(255,0,0,0.42)" stroke-width="0.75" fill="none"/>
<path d="M115.5 374.5V406.5M112.1 374.5H118.9M112.1 406.5H118.9" stroke="rgba(0,0,255,0.42)" stroke-width="0.75" fill="none"/>
<path d="M136.5 387.5V409.5M133.1 387.5H139.9M133.1 409.5H139.9" stroke="rgba(255,0,0,0.42)" stroke-width="0.75" fill="none"/>
<circle cx="58.4" cy="378" r="1.7" fill="rgba(0,0,255,0.6)"/>
<circle cx="55" cy="382.4" r="1.7" fill="rgba(0,0,255,0.6)"/>
<circle cx="61.6" cy="382.4" r="1.7" fill="rgba(0,0,255,0.6)"/>
<circle cx="58.4" cy="396" r="1.7" fill="rgba(0,0,255,0.6)"/>
<circle cx="55" cy="409.4" r="1.7" fill="rgba(0,0,255,0.6)"/>
<circle cx="61.6" cy="409.4" r="1.7" fill="rgba(0,0,255,0.6)"/>
<circle cx="58.4" cy="416" r="1.7" fill="rgba(0,0,255,0.6)"/>
<rect x="78.1" y="372.3" width="3.4" height="3.4" fill="rgba(255,0,0,0.6)"/>
<rect x="78.1" y="378.3" width="3.4" height="3.4" fill="rgba(255,0,0,0.6)"/>
<rect x="78.1" y="382.3" width="3.4" height="3.4" fill="rgba(255,0,0,0.6)"/>
<rect x="81.3" y="388.9" width="3.4" height="3.4" fill="rgba(255,0,0,0.6)"/>
<rect x="74.9" y="390.9" width="3.4" height="3.4" fill="rgba(255,0,0,0.6)"/>
<rect x="78.1" y="412.9" width="3.4" height="3.4" fill="rgba(255,0,0,0.6)"/>
<rect x="78.1" y="420.7" width="3.4" height="3.4" fill="rgba(255,0,0,0.6)"/>
<circle cx="112.4" cy="368" r="1.7" fill="rgba(0,0,255,0.6)"/>
<circle cx="118.8" cy="368" r="1.7" fill="rgba(0,0,255,0.6)"/>
<circle cx="115.4" cy="392" r="1.7" fill="rgba(0,0,255,0.6)"/>
<circle cx="112.4" cy="399" r="1.7" fill="rgba(0,0,255,0.6)"/>
<circle cx="118.8" cy="399" r="1.7" fill="rgba(0,0,255,0.6)"/>
<circle cx="115.4" cy="402" r="1.7" fill="rgba(0,0,255,0.6)"/>
<circle cx="115.4" cy="408" r="1.7" fill="rgba(0,0,255,0.6)"/>
<rect x="135.3" y="381.3" width="3.4" height="3.4" fill="rgba(255,0,0,0.6)"/>
<rect x="135.3" y="385.3" width="3.4" height="3.4" fill="rgba(255,0,0,0.6)"/>
<rect x="135.3" y="393.7" width="3.4" height="3.4" fill="rgba(255,0,0,0.6)"/>
<rect x="132.1" y="401.7" width="3.4" height="3.4" fill="rgba(255,0,0,0.6)"/>
<rect x="138.5" y="399.3" width="3.4" height="3.4" fill="rgba(255,0,0,0.6)"/>
<rect x="138.5" y="403.3" width="3.4" height="3.4" fill="rgba(255,0,0,0.6)"/>
<rect x="135.3" y="412.9" width="3.4" height="3.4" fill="rgba(255,0,0,0.6)"/>
<path d="M44.6 354.9V463.12" stroke="#1c1c1c" stroke-width="1.1" fill="none"/>
<path d="M44.05 462.4H151.8" stroke="#1c1c1c" stroke-width="1.45" fill="none"/>
<path d="M44.6 462.4H40.1M44.6 444.57H41.8M44.6 426.73H40.1M44.6 408.9H41.8M44.6 391.07H40.1M44.6 373.23H41.8M44.6 355.4H40.1M69 462.4V466.9M126 462.4V466.9" stroke="#1c1c1c" stroke-width="1" fill="none"/>
<g font-family="Liberation Sans, Arial, sans-serif" font-weight="bold" font-size="7.6" fill="#111" stroke="#111" stroke-width="0.2">
<text transform="translate(39.4 465.14) rotate(0.03)" text-anchor="end">0.0</text>
<text transform="translate(39.4 429.47) rotate(0.03)" text-anchor="end">0.5</text>
<text transform="translate(39.4 393.8) rotate(0.03)" text-anchor="end">1.0</text>
<text transform="translate(39.4 358.14) rotate(0.03)" text-anchor="end">1.5</text>
<text transform="translate(69 475.26) rotate(0.03)" text-anchor="middle" font-size="7.4">Red</text>
<text transform="translate(126 475.26) rotate(0.03)" text-anchor="middle" font-size="7.4">White</text>
</g>
<circle cx="181.5" cy="362.8" r="1.8" fill="rgba(0,0,255,0.6)"/>
<rect x="179.7" y="375" width="3.6" height="3.6" fill="rgba(255,0,0,0.6)"/>
<g font-family="Liberation Sans, Arial, sans-serif" font-size="8.5" fill="#000" stroke="#000" stroke-width="0.15"><text transform="translate(193.8 365.86) rotate(0.03)">NDC</text><text transform="translate(193.8 379.86) rotate(0.03)">HF</text></g>
<text transform="translate(10.86 408.8) rotate(-90.03)" text-anchor="middle" font-family="Liberation Serif, Times New Roman, serif" font-weight="bold" font-size="10.19" fill="#111" stroke="#111" stroke-width="0.12">TRF1/GAPDH</text>
<text transform="translate(22.64 408.8) rotate(-90.03)" text-anchor="middle" font-family="Liberation Serif, Times New Roman, serif" font-weight="bold" font-size="9.8" fill="#111" stroke="#111" stroke-width="0.12">Arbitiray Unite(AU)</text>
<text transform="translate(98.4 499.09) rotate(0.03) scale(0.8779 1.0211)" font-family="Liberation Sans, Arial, sans-serif" font-size="16" fill="#000" stroke="#000" stroke-width="0.25">G</text>
</g>
<g id="panel-H">
<rect x="280" y="432" width="13" height="30.1" fill="rgba(0,0,255,0.5)"/>
<rect x="279.5" y="431.5" width="14" height="30.6" fill="none" stroke="rgba(0,0,255,0.66)" stroke-width="1"/>
<rect x="302" y="399" width="13" height="63.1" fill="rgba(255,0,0,0.5)"/>
<rect x="301.5" y="398.5" width="14" height="63.6" fill="none" stroke="rgba(255,0,0,0.66)" stroke-width="1"/>
<rect x="339" y="429" width="13" height="33.1" fill="rgba(0,0,255,0.5)"/>
<rect x="338.5" y="428.5" width="14" height="33.6" fill="none" stroke="rgba(0,0,255,0.66)" stroke-width="1"/>
<rect x="361" y="417" width="13" height="45.1" fill="rgba(255,0,0,0.5)"/>
<rect x="360.5" y="416.5" width="14" height="45.6" fill="none" stroke="rgba(255,0,0,0.66)" stroke-width="1"/>
<path d="M286.5 410.5V450.5M283.15 410.5H289.85M283.15 450.5H289.85" stroke="rgba(0,0,255,0.42)" stroke-width="0.75" fill="none"/>
<path d="M308.5 377.5V418.5M305.15 377.5H311.85M305.15 418.5H311.85" stroke="rgba(255,0,0,0.42)" stroke-width="0.75" fill="none"/>
<path d="M345.5 403.5V451.5M342.15 403.5H348.85M342.15 451.5H348.85" stroke="rgba(0,0,255,0.42)" stroke-width="0.75" fill="none"/>
<path d="M367.5 393.5V437.5M364.15 393.5H370.85M364.15 437.5H370.85" stroke="rgba(255,0,0,0.42)" stroke-width="0.75" fill="none"/>
<circle cx="283.4" cy="402" r="1.68" fill="rgba(0,0,255,0.6)"/>
<circle cx="290" cy="403" r="1.68" fill="rgba(0,0,255,0.6)"/>
<circle cx="286.6" cy="428" r="1.68" fill="rgba(0,0,255,0.6)"/>
<circle cx="286.6" cy="437.4" r="1.68" fill="rgba(0,0,255,0.6)"/>
<circle cx="286.6" cy="442.6" r="1.68" fill="rgba(0,0,255,0.6)"/>
<circle cx="290" cy="448.4" r="1.68" fill="rgba(0,0,255,0.6)"/>
<circle cx="283.4" cy="450.2" r="1.68" fill="rgba(0,0,255,0.6)"/>
<rect x="306.92" y="359.32" width="3.35" height="3.35" fill="rgba(255,0,0,0.6)"/>
<rect x="301.12" y="391.92" width="3.35" height="3.35" fill="rgba(255,0,0,0.6)"/>
<rect x="312.72" y="392.92" width="3.35" height="3.35" fill="rgba(255,0,0,0.6)"/>
<rect x="306.92" y="393.92" width="3.35" height="3.35" fill="rgba(255,0,0,0.6)"/>
<rect x="306.92" y="398.32" width="3.35" height="3.35" fill="rgba(255,0,0,0.6)"/>
<rect x="306.92" y="412.32" width="3.35" height="3.35" fill="rgba(255,0,0,0.6)"/>
<rect x="306.92" y="425.32" width="3.35" height="3.35" fill="rgba(255,0,0,0.6)"/>
<circle cx="345.4" cy="403" r="1.68" fill="rgba(0,0,255,0.6)"/>
<circle cx="345.4" cy="406" r="1.68" fill="rgba(0,0,255,0.6)"/>
<circle cx="345.4" cy="410" r="1.68" fill="rgba(0,0,255,0.6)"/>
<circle cx="345.4" cy="424" r="1.68" fill="rgba(0,0,255,0.6)"/>
<circle cx="345.4" cy="428" r="1.68" fill="rgba(0,0,255,0.6)"/>
<circle cx="342.2" cy="460.4" r="1.68" fill="rgba(0,0,255,0.6)"/>
<circle cx="348.6" cy="460.4" r="1.68" fill="rgba(0,0,255,0.6)"/>
<rect x="365.72" y="388.52" width="3.35" height="3.35" fill="rgba(255,0,0,0.6)"/>
<rect x="365.72" y="396.72" width="3.35" height="3.35" fill="rgba(255,0,0,0.6)"/>
<rect x="362.32" y="400.92" width="3.35" height="3.35" fill="rgba(255,0,0,0.6)"/>
<rect x="368.92" y="401.32" width="3.35" height="3.35" fill="rgba(255,0,0,0.6)"/>
<rect x="365.72" y="429.72" width="3.35" height="3.35" fill="rgba(255,0,0,0.6)"/>
<rect x="365.72" y="432.92" width="3.35" height="3.35" fill="rgba(255,0,0,0.6)"/>
<rect x="365.72" y="446.32" width="3.35" height="3.35" fill="rgba(255,0,0,0.6)"/>
<path d="M271.9 351.71V462.82" stroke="#1c1c1c" stroke-width="1.09" fill="none"/>
<path d="M271.36 462.1H382.6" stroke="#1c1c1c" stroke-width="1.43" fill="none"/>
<path d="M271.9 462.1H267.46M271.9 448.36H269.14M271.9 434.62H267.46M271.9 420.89H269.14M271.9 407.15H267.46M271.9 393.41H269.14M271.9 379.68H267.46M271.9 365.94H269.14M271.9 352.2H267.46M297.4 462.1V466.54M356.4 462.1V466.54" stroke="#1c1c1c" stroke-width="0.99" fill="none"/>
<g font-family="Liberation Sans, Arial, sans-serif" font-weight="bold" font-size="7.7" fill="#111" stroke="#111" stroke-width="0.2">
<text transform="translate(266.77 464.87) rotate(0.03)" text-anchor="end">0.0</text>
<text transform="translate(266.77 437.4) rotate(0.03)" text-anchor="end">0.5</text>
<text transform="translate(266.77 409.92) rotate(0.03)" text-anchor="end">1.0</text>
<text transform="translate(266.77 382.45) rotate(0.03)" text-anchor="end">1.5</text>
<text transform="translate(266.77 354.97) rotate(0.03)" text-anchor="end">2.0</text>
<text transform="translate(297.4 475.03) rotate(0.03)" text-anchor="middle" font-size="7.3">Red</text>
<text transform="translate(356.4 475.03) rotate(0.03)" text-anchor="middle" font-size="7.3">White</text>
</g>
<circle cx="413.2" cy="359.3" r="1.8" fill="rgba(0,0,255,0.6)"/>
<rect x="411.4" y="372.5" width="3.6" height="3.6" fill="rgba(255,0,0,0.6)"/>
<g font-family="Liberation Sans, Arial, sans-serif" font-size="8.7" fill="#000" stroke="#000" stroke-width="0.15"><text transform="translate(425.4 362.43) rotate(0.03)">NDC</text><text transform="translate(425.4 377.43) rotate(0.03)">HF</text></g>
<text transform="translate(237.76 407.5) rotate(-90.03)" text-anchor="middle" font-family="Liberation Serif, Times New Roman, serif" font-weight="bold" font-size="10.5" fill="#111" stroke="#111" stroke-width="0.12">Rab7/GAPDH</text>
<text transform="translate(249.83 407.5) rotate(-90.03)" text-anchor="middle" font-family="Liberation Serif, Times New Roman, serif" font-weight="bold" font-size="10.1" fill="#111" stroke="#111" stroke-width="0.12">Arbitiray Unite(AU)</text>
<text transform="translate(328.11 498.95) rotate(0.03) scale(0.9263 1.0054)" font-family="Liberation Sans, Arial, sans-serif" font-size="16" fill="#000" stroke="#000" stroke-width="0.25">H</text>
</g>
<g id="panel-I">
<rect x="534" y="430" width="11" height="46" fill="rgba(0,0,255,0.5)"/>
<rect x="533.5" y="429.5" width="12" height="46.5" fill="none" stroke="rgba(0,0,255,0.66)" stroke-width="1"/>
<rect x="554" y="395" width="11" height="81" fill="rgba(255,0,0,0.5)"/>
<rect x="553.5" y="394.5" width="12" height="81.5" fill="none" stroke="rgba(255,0,0,0.66)" stroke-width="1"/>
<rect x="587" y="403" width="11" height="73" fill="rgba(0,0,255,0.5)"/>
<rect x="586.5" y="402.5" width="12" height="73.5" fill="none" stroke="rgba(0,0,255,0.66)" stroke-width="1"/>
<rect x="607" y="428" width="11" height="48" fill="rgba(255,0,0,0.5)"/>
<rect x="606.5" y="427.5" width="12" height="48.5" fill="none" stroke="rgba(255,0,0,0.66)" stroke-width="1"/>
<path d="M539.5 416.5V441.5M536.42 416.5H542.58M536.42 441.5H542.58" stroke="rgba(0,0,255,0.42)" stroke-width="0.75" fill="none"/>
<path d="M559.5 385.5V403.5M556.42 385.5H562.58M556.42 403.5H562.58" stroke="rgba(255,0,0,0.42)" stroke-width="0.75" fill="none"/>
<path d="M592.5 393.5V410.5M589.42 393.5H595.58M589.42 410.5H595.58" stroke="rgba(0,0,255,0.42)" stroke-width="0.75" fill="none"/>
<path d="M612.5 417.5V436.5M609.42 417.5H615.58M609.42 436.5H615.58" stroke="rgba(255,0,0,0.42)" stroke-width="0.75" fill="none"/>
<circle cx="539.6" cy="409.9" r="1.56" fill="rgba(0,0,255,0.6)"/>
<circle cx="539.6" cy="419.7" r="1.56" fill="rgba(0,0,255,0.6)"/>
<circle cx="534.4" cy="432.8" r="1.56" fill="rgba(0,0,255,0.6)"/>
<circle cx="544.8" cy="432.8" r="1.56" fill="rgba(0,0,255,0.6)"/>
<circle cx="539.6" cy="435.8" r="1.56" fill="rgba(0,0,255,0.6)"/>
<circle cx="539.6" cy="441.2" r="1.56" fill="rgba(0,0,255,0.6)"/>
<rect x="554.64" y="381.94" width="3.13" height="3.13" fill="rgba(255,0,0,0.6)"/>
<rect x="560.94" y="381.94" width="3.13" height="3.13" fill="rgba(255,0,0,0.6)"/>
<rect x="554.64" y="393.84" width="3.13" height="3.13" fill="rgba(255,0,0,0.6)"/>
<rect x="560.94" y="393.84" width="3.13" height="3.13" fill="rgba(255,0,0,0.6)"/>
<rect x="554.64" y="402.34" width="3.13" height="3.13" fill="rgba(255,0,0,0.6)"/>
<rect x="560.94" y="401.14" width="3.13" height="3.13" fill="rgba(255,0,0,0.6)"/>
<circle cx="592.5" cy="385.8" r="1.56" fill="rgba(0,0,255,0.6)"/>
<circle cx="587.7" cy="402.6" r="1.56" fill="rgba(0,0,255,0.6)"/>
<circle cx="592.5" cy="402.3" r="1.56" fill="rgba(0,0,255,0.6)"/>
<circle cx="597.6" cy="404" r="1.56" fill="rgba(0,0,255,0.6)"/>
<circle cx="592.5" cy="406.8" r="1.56" fill="rgba(0,0,255,0.6)"/>
<circle cx="592.5" cy="410.1" r="1.56" fill="rgba(0,0,255,0.6)"/>
<rect x="610.74" y="409.94" width="3.13" height="3.13" fill="rgba(255,0,0,0.6)"/>
<rect x="607.54" y="421.84" width="3.13" height="3.13" fill="rgba(255,0,0,0.6)"/>
<rect x="613.94" y="422.54" width="3.13" height="3.13" fill="rgba(255,0,0,0.6)"/>
<rect x="610.74" y="426.64" width="3.13" height="3.13" fill="rgba(255,0,0,0.6)"/>
<rect x="610.74" y="431.54" width="3.13" height="3.13" fill="rgba(255,0,0,0.6)"/>
<rect x="610.74" y="438.84" width="3.13" height="3.13" fill="rgba(255,0,0,0.6)"/>
<path d="M526.6 376.75V476.66" stroke="#1c1c1c" stroke-width="1" fill="none"/>
<path d="M526.1 476H626.1" stroke="#1c1c1c" stroke-width="1.31" fill="none"/>
<path d="M526.6 476H522.53M526.6 459.53H524.06M526.6 443.07H522.53M526.6 426.6H524.06M526.6 410.13H522.53M526.6 393.67H524.06M526.6 377.2H522.53M549.6 476V480.07M602.1 476V480.07" stroke="#1c1c1c" stroke-width="0.91" fill="none"/>
<g font-family="Liberation Sans, Arial, sans-serif" font-weight="bold" font-size="6.83" fill="#111" stroke="#111" stroke-width="0.2">
<text transform="translate(521.89 478.46) rotate(0.03)" text-anchor="end">0.0</text>
<text transform="translate(521.89 445.52) rotate(0.03)" text-anchor="end">0.5</text>
<text transform="translate(521.89 412.59) rotate(0.03)" text-anchor="end">1.0</text>
<text transform="translate(521.89 379.66) rotate(0.03)" text-anchor="end">1.5</text>
<text transform="translate(549.6 487.71) rotate(0.03)" text-anchor="middle" font-size="6.7">Red</text>
<text transform="translate(602.1 487.71) rotate(0.03)" text-anchor="middle" font-size="6.7">White</text>
</g>
<path d="M559.5 345.6V339.5H612.5V366.3" stroke="#2a2a2a" stroke-width="0.75" fill="none"/>
<text transform="translate(586.14 337.03) rotate(0.03)" text-anchor="middle" font-family="Liberation Sans, Arial, sans-serif" font-size="5.2" letter-spacing="1.69" fill="#000" stroke="#000" stroke-width="0.12">****</text>
<path d="M539.5 361.9V355.5H592.5V366.3" stroke="#2a2a2a" stroke-width="0.75" fill="none"/>
<text transform="translate(566.24 353.33) rotate(0.03)" text-anchor="middle" font-family="Liberation Sans, Arial, sans-serif" font-size="5.2" letter-spacing="1.69" fill="#000" stroke="#000" stroke-width="0.12">***</text>
<path d="M539.5 405.1V371.5H559.5V377.2" stroke="#2a2a2a" stroke-width="0.75" fill="none"/>
<text transform="translate(549.74 369.63) rotate(0.03)" text-anchor="middle" font-family="Liberation Sans, Arial, sans-serif" font-size="5.2" letter-spacing="1.69" fill="#000" stroke="#000" stroke-width="0.12">****</text>
<path d="M592.5 379.6V371.5H612.5V406.4" stroke="#2a2a2a" stroke-width="0.75" fill="none"/>
<text transform="translate(602.94 369.63) rotate(0.03)" text-anchor="middle" font-family="Liberation Sans, Arial, sans-serif" font-size="5.2" letter-spacing="1.69" fill="#000" stroke="#000" stroke-width="0.12">**</text>
<circle cx="653.2" cy="384.1" r="1.5" fill="rgba(0,0,255,0.6)"/>
<rect x="651.7" y="395.7" width="3" height="3" fill="rgba(255,0,0,0.6)"/>
<g font-family="Liberation Sans, Arial, sans-serif" font-size="7.8" fill="#000" stroke="#000" stroke-width="0.15"><text transform="translate(664.7 386.91) rotate(0.03)">NDC</text><text transform="translate(664.7 400.01) rotate(0.03)">HF</text></g>
<text transform="translate(495.9 427) rotate(-90.03)" text-anchor="middle" font-family="Liberation Serif, Times New Roman, serif" font-weight="bold" font-size="9.36" fill="#111" stroke="#111" stroke-width="0.12">NCOA4/GAPDH</text>
<text transform="translate(506.69 427) rotate(-90.03)" text-anchor="middle" font-family="Liberation Serif, Times New Roman, serif" font-weight="bold" font-size="9" fill="#111" stroke="#111" stroke-width="0.12">Arbitiray Unite(AU)</text>
<text transform="translate(579.57 513.75) rotate(0.03) scale(0.8224 1.0054)" font-family="Liberation Sans, Arial, sans-serif" font-size="16" fill="#000" stroke="#000" stroke-width="0.25">I</text>
</g>
<g id="panel-J">
<rect x="50" y="598" width="12" height="55.4" fill="rgba(0,0,255,0.5)"/>
<rect x="49.5" y="597.5" width="13" height="55.9" fill="none" stroke="rgba(0,0,255,0.66)" stroke-width="1"/>
<rect x="71" y="587" width="12" height="66.4" fill="rgba(255,0,0,0.5)"/>
<rect x="70.5" y="586.5" width="13" height="66.9" fill="none" stroke="rgba(255,0,0,0.66)" stroke-width="1"/>
<rect x="107" y="623" width="12" height="30.4" fill="rgba(0,0,255,0.5)"/>
<rect x="106.5" y="622.5" width="13" height="30.9" fill="none" stroke="rgba(0,0,255,0.66)" stroke-width="1"/>
<rect x="128" y="590" width="13" height="63.4" fill="rgba(255,0,0,0.5)"/>
<rect x="127.5" y="589.5" width="14" height="63.9" fill="none" stroke="rgba(255,0,0,0.66)" stroke-width="1"/>
<path d="M55.5 589.5V604.5M52.1 589.5H58.9M52.1 604.5H58.9" stroke="rgba(0,0,255,0.42)" stroke-width="0.75" fill="none"/>
<path d="M76.5 576.5V594.5M73.1 576.5H79.9M73.1 594.5H79.9" stroke="rgba(255,0,0,0.42)" stroke-width="0.75" fill="none"/>
<path d="M112.5 608.5V636.5M109.1 608.5H115.9M109.1 636.5H115.9" stroke="rgba(0,0,255,0.42)" stroke-width="0.75" fill="none"/>
<path d="M134.5 584.5V593.5M131.1 584.5H137.9M131.1 593.5H137.9" stroke="rgba(255,0,0,0.42)" stroke-width="0.75" fill="none"/>
<circle cx="55.6" cy="586" r="1.7" fill="rgba(0,0,255,0.6)"/>
<circle cx="55.6" cy="594" r="1.7" fill="rgba(0,0,255,0.6)"/>
<circle cx="50.6" cy="599" r="1.7" fill="rgba(0,0,255,0.6)"/>
<circle cx="61" cy="599" r="1.7" fill="rgba(0,0,255,0.6)"/>
<circle cx="55.6" cy="601" r="1.7" fill="rgba(0,0,255,0.6)"/>
<circle cx="55.6" cy="610" r="1.7" fill="rgba(0,0,255,0.6)"/>
<rect x="72.3" y="573.7" width="3.4" height="3.4" fill="rgba(255,0,0,0.6)"/>
<rect x="78.7" y="573.7" width="3.4" height="3.4" fill="rgba(255,0,0,0.6)"/>
<rect x="72.3" y="579.3" width="3.4" height="3.4" fill="rgba(255,0,0,0.6)"/>
<rect x="78.7" y="580.9" width="3.4" height="3.4" fill="rgba(255,0,0,0.6)"/>
<rect x="75.3" y="588.3" width="3.4" height="3.4" fill="rgba(255,0,0,0.6)"/>
<rect x="75.3" y="592.3" width="3.4" height="3.4" fill="rgba(255,0,0,0.6)"/>
<rect x="75.3" y="597.9" width="3.4" height="3.4" fill="rgba(255,0,0,0.6)"/>
<circle cx="113" cy="607" r="1.7" fill="rgba(0,0,255,0.6)"/>
<circle cx="109.8" cy="614" r="1.7" fill="rgba(0,0,255,0.6)"/>
<circle cx="116.2" cy="612" r="1.7" fill="rgba(0,0,255,0.6)"/>
<circle cx="109.8" cy="622" r="1.7" fill="rgba(0,0,255,0.6)"/>
<circle cx="116.2" cy="621" r="1.7" fill="rgba(0,0,255,0.6)"/>
<circle cx="113" cy="634" r="1.7" fill="rgba(0,0,255,0.6)"/>
<circle cx="113" cy="646.4" r="1.7" fill="rgba(0,0,255,0.6)"/>
<rect x="138.3" y="581.9" width="3.4" height="3.4" fill="rgba(255,0,0,0.6)"/>
<rect x="127.3" y="583.9" width="3.4" height="3.4" fill="rgba(255,0,0,0.6)"/>
<rect x="132.7" y="584.7" width="3.4" height="3.4" fill="rgba(255,0,0,0.6)"/>
<rect x="127.3" y="587.7" width="3.4" height="3.4" fill="rgba(255,0,0,0.6)"/>
<rect x="138.3" y="588.3" width="3.4" height="3.4" fill="rgba(255,0,0,0.6)"/>
<rect x="132.7" y="590.3" width="3.4" height="3.4" fill="rgba(255,0,0,0.6)"/>
<rect x="132.7" y="594.3" width="3.4" height="3.4" fill="rgba(255,0,0,0.6)"/>
<path d="M41.6 545.5V654.12" stroke="#1c1c1c" stroke-width="1.1" fill="none"/>
<path d="M41.05 653.4H148.6" stroke="#1c1c1c" stroke-width="1.45" fill="none"/>
<path d="M41.6 653.4H37.1M41.6 639.98H38.8M41.6 626.55H37.1M41.6 613.12H38.8M41.6 599.7H37.1M41.6 586.28H38.8M41.6 572.85H37.1M41.6 559.43H38.8M41.6 546H37.1M66.4 653.4V657.9M123.6 653.4V657.9" stroke="#1c1c1c" stroke-width="1" fill="none"/>
<g font-family="Liberation Sans, Arial, sans-serif" font-weight="bold" font-size="7.7" fill="#111" stroke="#111" stroke-width="0.2">
<text transform="translate(36.4 656.17) rotate(0.03)" text-anchor="end">0.0</text>
<text transform="translate(36.4 629.32) rotate(0.03)" text-anchor="end">0.5</text>
<text transform="translate(36.4 602.47) rotate(0.03)" text-anchor="end">1.0</text>
<text transform="translate(36.4 575.62) rotate(0.03)" text-anchor="end">1.5</text>
<text transform="translate(36.4 548.77) rotate(0.03)" text-anchor="end">2.0</text>
<text transform="translate(66.4 666.06) rotate(0.03)" text-anchor="middle" font-size="7.4">Red</text>
<text transform="translate(123.6 666.06) rotate(0.03)" text-anchor="middle" font-size="7.4">White</text>
</g>
<path d="M55.5 550V544.5H112.5V550" stroke="#2a2a2a" stroke-width="0.75" fill="none"/>
<text transform="translate(85.04 542.23) rotate(0.03)" text-anchor="middle" font-family="Liberation Sans, Arial, sans-serif" font-size="5.2" letter-spacing="2.08" fill="#000" stroke="#000" stroke-width="0.12">***</text>
<path d="M55.5 574.4V562.5H74.5V568" stroke="#2a2a2a" stroke-width="0.75" fill="none"/>
<text transform="translate(65.44 560.23) rotate(0.03)" text-anchor="middle" font-family="Liberation Sans, Arial, sans-serif" font-size="5.2" letter-spacing="2.08" fill="#000" stroke="#000" stroke-width="0.12">*</text>
<path d="M77.5 568V562.5H110.5V600" stroke="#2a2a2a" stroke-width="0.75" fill="none"/>
<text transform="translate(94.64 560.23) rotate(0.03)" text-anchor="middle" font-family="Liberation Sans, Arial, sans-serif" font-size="5.2" letter-spacing="2.08" fill="#000" stroke="#000" stroke-width="0.12">****</text>
<path d="M114.5 600V562.5H134.5V577" stroke="#2a2a2a" stroke-width="0.75" fill="none"/>
<text transform="translate(125.04 560.23) rotate(0.03)" text-anchor="middle" font-family="Liberation Sans, Arial, sans-serif" font-size="5.2" letter-spacing="2.08" fill="#000" stroke="#000" stroke-width="0.12">****</text>
<circle cx="179.1" cy="553.4" r="1.8" fill="rgba(0,0,255,0.6)"/>
<rect x="177.3" y="566.2" width="3.6" height="3.6" fill="rgba(255,0,0,0.6)"/>
<g font-family="Liberation Sans, Arial, sans-serif" font-size="8.5" fill="#000" stroke="#000" stroke-width="0.15"><text transform="translate(191.7 556.46) rotate(0.03)">NDC</text><text transform="translate(191.7 571.06) rotate(0.03)">HF</text></g>
<text transform="translate(7.76 600) rotate(-90.03)" text-anchor="middle" font-family="Liberation Serif, Times New Roman, serif" font-weight="bold" font-size="10.19" fill="#111" stroke="#111" stroke-width="0.12">4-HNE/GAPDH</text>
<text transform="translate(20.24 600) rotate(-90.03)" text-anchor="middle" font-family="Liberation Serif, Times New Roman, serif" font-weight="bold" font-size="9.8" fill="#111" stroke="#111" stroke-width="0.12">Arbitiray Unite(AU)</text>
<text transform="translate(100.44 699.89) rotate(0.03) scale(0.6860 1.0089)" font-family="Liberation Sans, Arial, sans-serif" font-size="16" fill="#000" stroke="#000" stroke-width="0.25">J</text>
</g>
<g id="panel-K">
<rect x="277" y="596" width="12" height="55.6" fill="rgba(0,0,255,0.5)"/>
<rect x="276.5" y="595.5" width="13" height="56.1" fill="none" stroke="rgba(0,0,255,0.66)" stroke-width="1"/>
<rect x="299" y="601" width="12" height="50.6" fill="rgba(255,0,0,0.5)"/>
<rect x="298.5" y="600.5" width="13" height="51.1" fill="none" stroke="rgba(255,0,0,0.66)" stroke-width="1"/>
<rect x="335" y="615" width="13" height="36.6" fill="rgba(0,0,255,0.5)"/>
<rect x="334.5" y="614.5" width="14" height="37.1" fill="none" stroke="rgba(0,0,255,0.66)" stroke-width="1"/>
<rect x="357" y="605" width="12" height="46.6" fill="rgba(255,0,0,0.5)"/>
<rect x="356.5" y="604.5" width="13" height="47.1" fill="none" stroke="rgba(255,0,0,0.66)" stroke-width="1"/>
<path d="M283.5 572.5V616.5M280.1 572.5H286.9M280.1 616.5H286.9" stroke="rgba(0,0,255,0.42)" stroke-width="0.75" fill="none"/>
<path d="M304.5 581.5V616.5M301.1 581.5H307.9M301.1 616.5H307.9" stroke="rgba(255,0,0,0.42)" stroke-width="0.75" fill="none"/>
<path d="M341.5 592.5V634.5M338.1 592.5H344.9M338.1 634.5H344.9" stroke="rgba(0,0,255,0.42)" stroke-width="0.75" fill="none"/>
<path d="M363.5 589.5V617.5M360.1 589.5H366.9M360.1 617.5H366.9" stroke="rgba(255,0,0,0.42)" stroke-width="0.75" fill="none"/>
<circle cx="283.2" cy="558.6" r="1.7" fill="rgba(0,0,255,0.6)"/>
<circle cx="283.2" cy="577.4" r="1.7" fill="rgba(0,0,255,0.6)"/>
<circle cx="283.2" cy="584" r="1.7" fill="rgba(0,0,255,0.6)"/>
<circle cx="283.2" cy="603" r="1.7" fill="rgba(0,0,255,0.6)"/>
<circle cx="280" cy="609.4" r="1.7" fill="rgba(0,0,255,0.6)"/>
<circle cx="286.4" cy="610.4" r="1.7" fill="rgba(0,0,255,0.6)"/>
<circle cx="283.2" cy="618" r="1.7" fill="rgba(0,0,255,0.6)"/>
<rect x="303.3" y="570.5" width="3.4" height="3.4" fill="rgba(255,0,0,0.6)"/>
<rect x="297.5" y="588.3" width="3.4" height="3.4" fill="rgba(255,0,0,0.6)"/>
<rect x="308.9" y="588.3" width="3.4" height="3.4" fill="rgba(255,0,0,0.6)"/>
<rect x="303.3" y="591.5" width="3.4" height="3.4" fill="rgba(255,0,0,0.6)"/>
<rect x="303.3" y="607.3" width="3.4" height="3.4" fill="rgba(255,0,0,0.6)"/>
<rect x="303.3" y="614.3" width="3.4" height="3.4" fill="rgba(255,0,0,0.6)"/>
<rect x="303.3" y="623.9" width="3.4" height="3.4" fill="rgba(255,0,0,0.6)"/>
<circle cx="341.4" cy="578.6" r="1.7" fill="rgba(0,0,255,0.6)"/>
<circle cx="341.4" cy="603" r="1.7" fill="rgba(0,0,255,0.6)"/>
<circle cx="341.4" cy="607" r="1.7" fill="rgba(0,0,255,0.6)"/>
<circle cx="341.4" cy="613" r="1.7" fill="rgba(0,0,255,0.6)"/>
<circle cx="341.4" cy="618" r="1.7" fill="rgba(0,0,255,0.6)"/>
<circle cx="344.4" cy="637" r="1.7" fill="rgba(0,0,255,0.6)"/>
<circle cx="338" cy="639.4" r="1.7" fill="rgba(0,0,255,0.6)"/>
<rect x="361.7" y="575.5" width="3.4" height="3.4" fill="rgba(255,0,0,0.6)"/>
<rect x="358.1" y="597.7" width="3.4" height="3.4" fill="rgba(255,0,0,0.6)"/>
<rect x="364.9" y="597.7" width="3.4" height="3.4" fill="rgba(255,0,0,0.6)"/>
<rect x="358.1" y="605.3" width="3.4" height="3.4" fill="rgba(255,0,0,0.6)"/>
<rect x="364.9" y="603.3" width="3.4" height="3.4" fill="rgba(255,0,0,0.6)"/>
<rect x="361.7" y="613.7" width="3.4" height="3.4" fill="rgba(255,0,0,0.6)"/>
<rect x="361.7" y="617.3" width="3.4" height="3.4" fill="rgba(255,0,0,0.6)"/>
<path d="M268.4 542.3V652.33" stroke="#1c1c1c" stroke-width="1.1" fill="none"/>
<path d="M267.85 651.6H378" stroke="#1c1c1c" stroke-width="1.45" fill="none"/>
<path d="M268.4 651.6H263.9M268.4 640.72H265.6M268.4 629.84H263.9M268.4 618.96H265.6M268.4 608.08H263.9M268.4 597.2H265.6M268.4 586.32H263.9M268.4 575.44H265.6M268.4 564.56H263.9M268.4 553.68H265.6M268.4 542.8H263.9M294 651.6V656.1M352.2 651.6V656.1" stroke="#1c1c1c" stroke-width="1" fill="none"/>
<g font-family="Liberation Sans, Arial, sans-serif" font-weight="bold" font-size="7.7" fill="#111" stroke="#111" stroke-width="0.2">
<text transform="translate(263.2 654.37) rotate(0.03)" text-anchor="end">0.0</text>
<text transform="translate(263.2 632.61) rotate(0.03)" text-anchor="end">0.5</text>
<text transform="translate(263.2 610.85) rotate(0.03)" text-anchor="end">1.0</text>
<text transform="translate(263.2 589.09) rotate(0.03)" text-anchor="end">1.5</text>
<text transform="translate(263.2 567.33) rotate(0.03)" text-anchor="end">2.0</text>
<text transform="translate(263.2 545.57) rotate(0.03)" text-anchor="end">2.5</text>
<text transform="translate(294 664.66) rotate(0.03)" text-anchor="middle" font-size="7.4">Red</text>
<text transform="translate(352.2 664.66) rotate(0.03)" text-anchor="middle" font-size="7.4">White</text>
</g>
<circle cx="408.3" cy="550.2" r="1.8" fill="rgba(0,0,255,0.6)"/>
<rect x="406.5" y="562.8" width="3.6" height="3.6" fill="rgba(255,0,0,0.6)"/>
<g font-family="Liberation Sans, Arial, sans-serif" font-size="8.6" fill="#000" stroke="#000" stroke-width="0.15"><text transform="translate(420.5 553.3) rotate(0.03)">NDC</text><text transform="translate(420.5 567.7) rotate(0.03)">HF</text></g>
<text transform="translate(234.46 597.5) rotate(-90.03)" text-anchor="middle" font-family="Liberation Serif, Times New Roman, serif" font-weight="bold" font-size="10.19" fill="#111" stroke="#111" stroke-width="0.12">MDA/GAPDH</text>
<text transform="translate(246.64 597.5) rotate(-90.03)" text-anchor="middle" font-family="Liberation Serif, Times New Roman, serif" font-weight="bold" font-size="9.8" fill="#111" stroke="#111" stroke-width="0.12">Arbitiray Unite(AU)</text>
<text transform="translate(327.88 693.95) rotate(0.03) scale(0.7935 1.0236)" font-family="Liberation Sans, Arial, sans-serif" font-size="16" fill="#000" stroke="#000" stroke-width="0.25">K</text>
</g>

</svg>
</body>
</html>
